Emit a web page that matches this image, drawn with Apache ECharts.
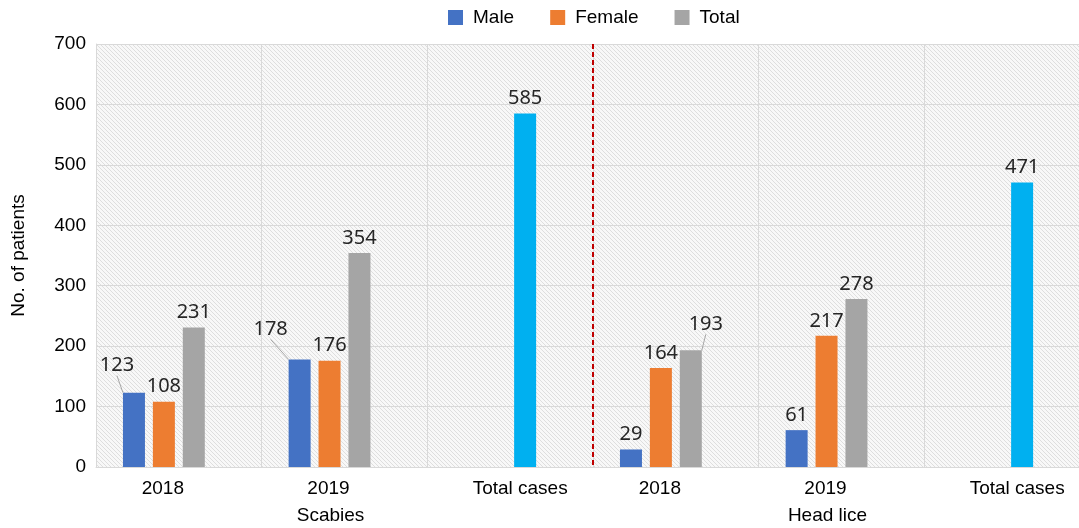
<!DOCTYPE html>
<html>
<head>
<meta charset="utf-8">
<script src="https://cdn.jsdelivr.net/npm/echarts@6/dist/echarts.min.js"></script>
<style>
  html, body { margin: 0; padding: 0; background: #fff; }
  #main { width: 1079px; height: 528px; }
</style>
</head>
<body>
<div id="main"></div>
<script>
// data
var categories = ["2018", "2019", "Total cases", "2018", "2019", "Total cases"];
var groups = ["Scabies", "Head lice"];
var male = [123, 178, "-", 29, 61, "-"];
var female = [108, 176, "-", 164, 217, "-"];
var total = [231, 354, 585, 193, 278, 471];
var yTicks = [0, 100, 200, 300, 400, 500, 600, 700];

// labels that were dragged aside in the original (series index -> data index -> [dx, dy])
var movedLabels = { 0: { 0: [-17, -12], 1: [-29, -15] }, 2: { 3: [15, -11] } };

// diagonal hatch for the plot background
var tile = document.createElement("canvas");
tile.width = 4;
tile.height = 4;
var ctx = tile.getContext("2d");
ctx.fillStyle = "#f8f8f8";
ctx.fillRect(0, 0, 4, 4);
ctx.fillStyle = "#dedede";
for (var i = 0; i < 4; i++) {
  ctx.fillRect(i, i, 1, 1);
}

var myChart = echarts.init(document.getElementById("main"));

function makeData(arr, seriesIndex, colorFor) {
  return arr.map(function (v, idx) {
    var item = { value: v };
    if (movedLabels[seriesIndex] && movedLabels[seriesIndex][idx]) {
      item.labelLine = { show: true };
    }
    if (colorFor && colorFor(idx)) {
      item.itemStyle = { color: colorFor(idx) };
    }
    return item;
  });
}

var labelStyle = {
  show: true,
  position: "top",
  distance: 5,
  fontFamily: "Noto Sans",
  fontSize: 20,
  color: "#262626"
};

function layoutFn(params) {
  var m = movedLabels[params.seriesIndex];
  if (m && m[params.dataIndex]) {
    return { dx: m[params.dataIndex][0], dy: m[params.dataIndex][1] };
  }
  return {};
}

option = {
  animation: false,
  backgroundColor: "#fff",
  legend: {
    data: ["Male", "Female", "Total"],
    top: 3,
    left: 443,
    icon: "rect",
    itemWidth: 15,
    itemHeight: 15,
    itemGap: 36,
    textStyle: {
      fontFamily: "Liberation Sans",
      fontSize: 19,
      color: "#000",
      padding: [0, 0, 0, 5]
    }
  },
  grid: {
    left: 96,
    top: 44,
    width: 994,
    bottom: 61,
    outerBoundsMode: "none",
    show: true,
    borderWidth: 0,
    backgroundColor: { image: tile, repeat: "repeat" }
  },
  xAxis: [
    {
      type: "category",
      data: categories,
      axisLine: { lineStyle: { color: "#d9d9d9" } },
      axisTick: { show: false },
      splitLine: { show: true, lineStyle: { color: "#d9d9d9" } },
      axisLabel: {
        margin: 12,
        fontFamily: "Liberation Sans",
        fontSize: 19,
        color: "#000",
        formatter: function (v) {
          return v === "Total cases" ? "{r|" + v + "}" : "{l|" + v + "}";
        },
        rich: {
          l: { fontFamily: "Liberation Sans", fontSize: 19, color: "#000", padding: [0, 32, 0, 0] },
          r: { fontFamily: "Liberation Sans", fontSize: 19, color: "#000", padding: [0, 0, 0, 20] }
        }
      }
    },
    {
      type: "category",
      data: groups,
      position: "bottom",
      axisLine: { show: false },
      axisTick: { show: false },
      splitLine: {
        show: true,
        showMinLine: false,
        showMaxLine: false,
        lineStyle: { color: "#c00000", type: [5, 3], width: 2 }
      },
      axisLabel: {
        margin: 39,
        fontFamily: "Liberation Sans",
        fontSize: 19,
        color: "#000",
        padding: [0, 28, 0, 0]
      }
    }
  ],
  yAxis: {
    type: "value",
    min: yTicks[0],
    max: yTicks[yTicks.length - 1],
    interval: 100,
    name: "No. of patients",
    nameLocation: "middle",
    nameGap: 68,
    nameTextStyle: { fontFamily: "Liberation Sans", fontSize: 19, color: "#000" },
    axisLine: { show: true, lineStyle: { color: "#d9d9d9" } },
    axisTick: { show: false },
    splitLine: { lineStyle: { color: "#d9d9d9" } },
    axisLabel: { margin: 10, fontFamily: "Liberation Sans", fontSize: 19, color: "#000" }
  },
  series: [
    {
      name: "Male",
      type: "bar",
      barWidth: 22,
      barGap: "36%",
      itemStyle: { color: "#4472c4" },
      label: labelStyle,
      labelLine: { lineStyle: { color: "#a6a6a6", width: 1 } },
      labelLayout: layoutFn,
      data: makeData(male, 0)
    },
    {
      name: "Female",
      type: "bar",
      barWidth: 22,
      barGap: "36%",
      itemStyle: { color: "#ed7d31" },
      label: labelStyle,
      data: makeData(female, 1)
    },
    {
      name: "Total",
      type: "bar",
      barWidth: 22,
      barGap: "36%",
      itemStyle: { color: "#a5a5a5" },
      label: labelStyle,
      labelLine: { lineStyle: { color: "#a6a6a6", width: 1 } },
      labelLayout: layoutFn,
      data: makeData(total, 2, function (idx) {
        return categories[idx] === "Total cases" ? "#00b0f0" : null;
      })
    },
    {
      // empty fourth slot kept from the source chart layout
      name: "",
      type: "bar",
      barWidth: 22,
      barGap: "36%",
      data: categories.map(function () { return "-"; })
    }
  ]
};
myChart.setOption(option);
</script>
</body>
</html>
